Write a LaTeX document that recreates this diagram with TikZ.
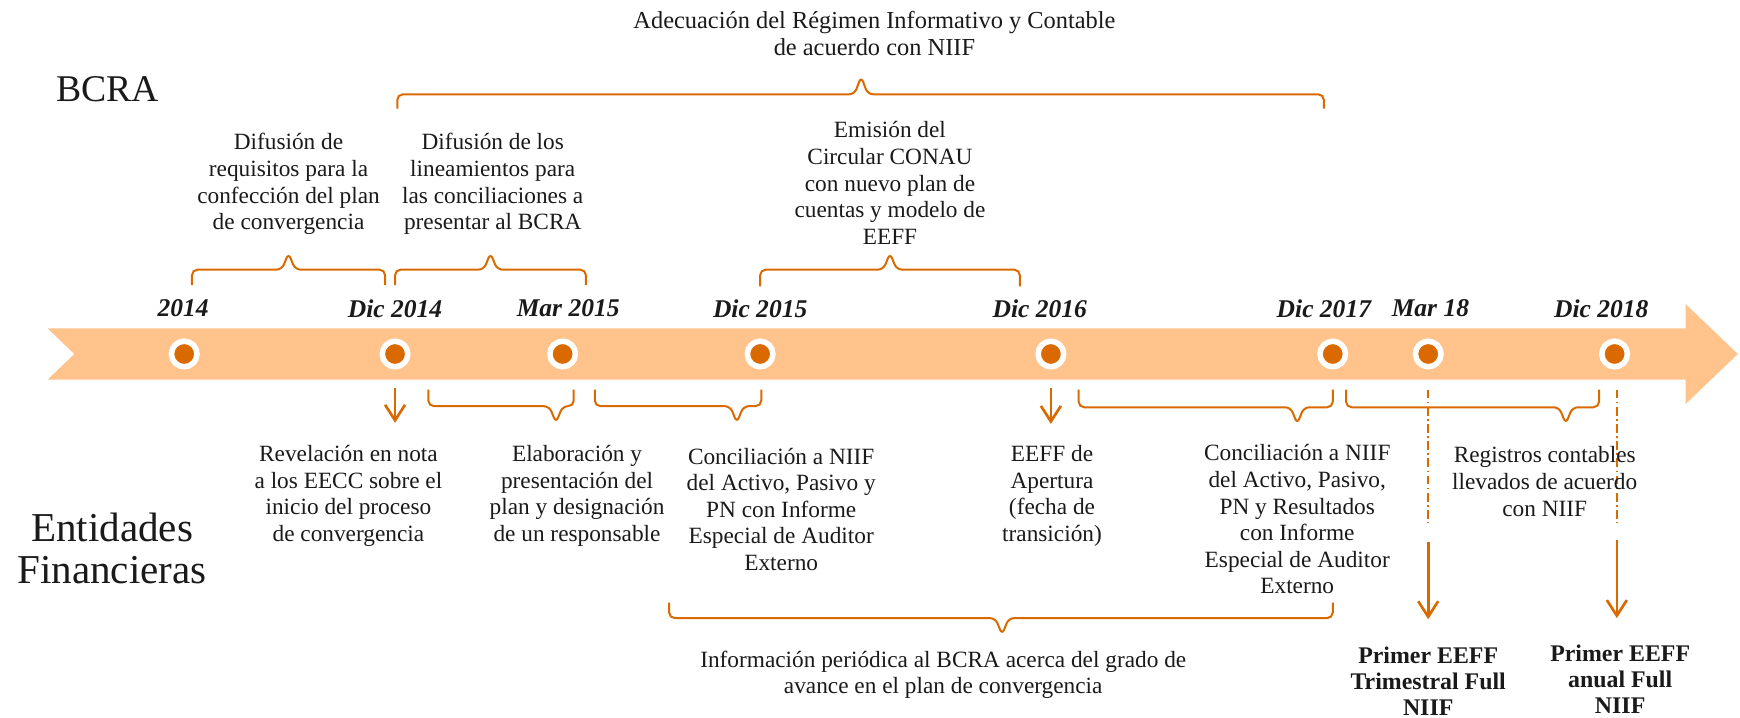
\documentclass[tikz,border=0pt]{standalone}
\usepackage{fontspec}
\setmainfont{Liberation Serif}
\usetikzlibrary{arrows.meta}
\definecolor{dorange}{HTML}{DA6A00}
\definecolor{band}{HTML}{FFC38B}
\definecolor{ink}{HTML}{1A1A1A}
\newcommand{\mybrace}[6]{%
  \draw[brc] (#1,#4) -- (#1,#5) -- ({#3-6},#5) -- (#3,#6) -- ({#3+6},#5) -- (#2,#5) -- (#2,#4);}
\begin{document}
\begin{tikzpicture}[x=1pt,y=-1pt,
  brc/.style={draw=dorange, line width=1.8pt, rounded corners=5pt},
  txt/.style={align=center, text=ink, font=\fontsize{21}{24}\selectfont, inner sep=0pt},
  datelbl/.style={text=ink, font=\fontsize{23}{26}\selectfont\bfseries\itshape, inner sep=0pt},
  boldtxt/.style={align=center, text=ink, font=\fontsize{21.5}{23.5}\selectfont\bfseries, inner sep=0pt},
  bigtxt/.style={align=center, text=ink, font=\fontsize{37}{38}\selectfont, inner sep=0pt},
  dot/.style={circle, fill=dorange, draw=white, line width=5pt, minimum size=23pt, inner sep=0pt},
  arr/.style={draw=dorange, line width=2.4pt, -{Straight Barb[length=14pt,width=18pt]}},
  ddash/.style={draw=dorange, line width=1.6pt, dash pattern=on 8pt off 3pt on 1.5pt off 3pt}]
\useasboundingbox (0,0) rectangle (1568,647);
\fill[white] (0,0) rectangle (1568,647);
% band
\fill[band] (43,296) -- (1519,296) -- (1519,274) -- (1566,319) -- (1519,364) -- (1519,342) -- (43,342) -- (67,319) -- cycle;
% dots
\foreach \n/\x in {a/166,b/356,c/507,d/685,e/947,f/1201,g/1287,h/1455}
  \node[dot] (\n) at (\x,319) {};
% dates
\node[datelbl] at (165,278) {2014};
\node[datelbl] at (356,278) {Dic 2014};
\node[datelbl] at (512,278) {Mar 2015};
\node[datelbl] at (685,278) {Dic 2015};
\node[datelbl] at (937,278) {Dic 2016};
\node[datelbl] at (1193,278) {Dic 2017};
\node[datelbl] at (1289,278) {Mar 18};
\node[datelbl] at (1443,278) {Dic 2018};
% left labels
\node[bigtxt, font=\fontsize{34}{38}\selectfont] (bcra) at (97,80) {BCRA};
\node[bigtxt] (ent) at (101,494) {Entidades\\Financieras};
% top texts
\node[txt, font=\fontsize{22}{24}\selectfont] (tt) at (788,30) {Adecuación del Régimen Informativo y Contable\\de acuerdo con NIIF};
\node[txt] (u1) at (260,166) {Difusión de\\requisitos para la\\confección del plan\\de convergencia};
\node[txt] (u2) at (444,166) {Difusión de los\\lineamientos para\\las conciliaciones a\\presentar al BCRA};
\node[txt] (u3) at (802,165) {Emisión del\\Circular CONAU\\con nuevo plan de\\cuentas y modelo de\\EEFF};
% upper braces
\mybrace{358}{1193}{776}{98}{85}{69}
\mybrace{173}{347}{260}{257}{243}{228}
\mybrace{356}{528}{442}{257}{243}{228}
\mybrace{685}{919}{802}{258}{243}{228}
% lower braces
\mybrace{386}{517}{501}{351}{366}{381}
\mybrace{536}{686}{664}{351}{366}{381}
\mybrace{972}{1201}{1169}{351}{367}{382}
\mybrace{1213}{1441}{1411}{351}{367}{382}
\mybrace{603}{1201}{903}{543}{557}{572}
% arrows
\coordinate (b1) at (356,350); \coordinate (b2) at (356,381);
\draw[arr] (b1) -- (b2);
\coordinate (e1) at (947,350); \coordinate (e2) at (947,382);
\draw[arr] (e1) -- (e2);
\coordinate (g1) at (1287,351); \coordinate (g2) at (1287,471);
\coordinate (g3) at (1287,488); \coordinate (g4) at (1287,558);
\draw[ddash] (g1) -- (g2);
\draw[arr] (g3) -- (g4);
\coordinate (h1) at (1457,351); \coordinate (h2) at (1457,471);
\coordinate (h3) at (1457,487); \coordinate (h4) at (1457,557);
\draw[ddash] (h1) -- (h2);
\draw[arr] (h3) -- (h4);
% lower texts
\node[txt] (l1) at (314,447) {Revelación en nota\\a los EECC sobre el\\inicio del proceso\\de convergencia};
\node[txt] (l2) at (520,447) {Elaboración y\\presentación del\\plan y designación\\de un responsable};
\node[txt] (l3) at (704,459) {Conciliación a NIIF\\del Activo, Pasivo y\\PN con Informe\\Especial de Auditor\\Externo};
\node[txt] (l4) at (948,447) {EEFF de\\Apertura\\(fecha de\\transición)};
\node[txt] (l5) at (1169,468) {Conciliación a NIIF\\del Activo, Pasivo,\\PN y Resultados\\con Informe\\Especial de Auditor\\Externo};
\node[txt] (l6) at (1392,434) {Registros contables\\llevados de acuerdo\\con NIIF};
\node[txt] (l7) at (850,608) {Información periódica al BCRA acerca del grado de\\avance en el plan de convergencia};
\node[boldtxt] (p1) at (1287,614) {Primer EEFF\\Trimestral Full\\NIIF};
\node[boldtxt] (p2) at (1460,612) {Primer EEFF\\anual Full\\NIIF};
\end{tikzpicture}
\end{document}
